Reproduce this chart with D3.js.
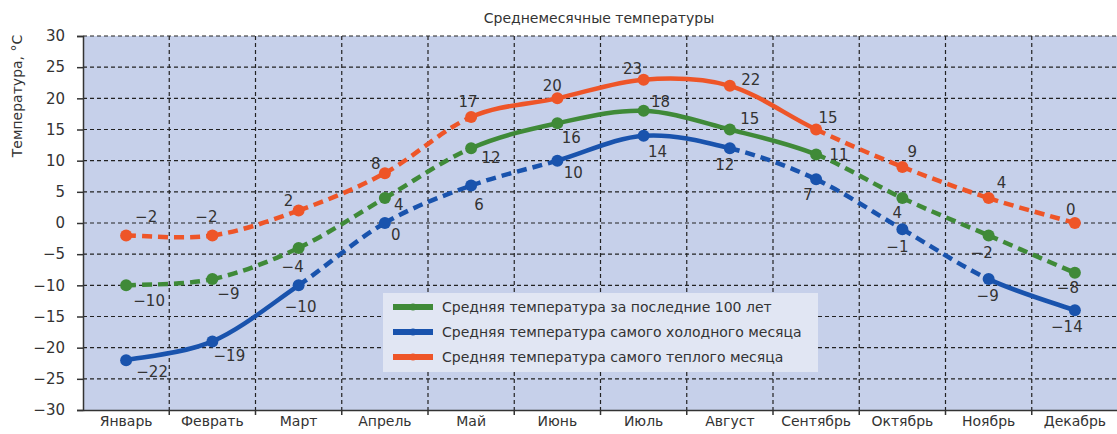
<!DOCTYPE html>
<html>
<head>
<meta charset="utf-8">
<script src="https://cdn.jsdelivr.net/npm/d3@7"></script>
<style>
  html, body { margin: 0; padding: 0; background: #ffffff; }
  svg { display: block; }
  text { font-family: "DejaVu Sans", sans-serif; fill: #333333; }
</style>
</head>
<body>
<svg id="chart" width="1117" height="434"></svg>
<script>
// ---- data ----
const months = ["Январь", "Февраль", "Март", "Апрель", "Май", "Июнь", "Июль", "Август", "Сентябрь", "Октябрь", "Ноябрь", "Декабрь"];
const monthLabels = ["Январь", "Феврать", "Март", "Апрель", "Май", "Июнь", "Июль", "Август", "Сентябрь", "Октябрь", "Ноябрь", "Декабрь"];
const avg100 = [-10, -9, -4, 4, 12, 16, 18, 15, 11, 4, -2, -8];
const coldest = [-22, -19, -10, 0, 6, 10, 14, 12, 7, -1, -9, -14];
const warmest = [-2, -2, 2, 8, 17, 20, 23, 22, 15, 9, 4, 0];
const yTicks = [-30, -25, -20, -15, -10, -5, 0, 5, 10, 15, 20, 25, 30];
const seriesNames = [
  "Средняя температура за последние 100 лет",
  "Средняя температура самого холодного месяца",
  "Средняя температура самого теплого месяца"
];
const title = "Среднемесячные температуры";
const yTitle = "Температура, °C";

// ---- styles (segment dashing, label placement) ----
const dashAvg  = [1,1,1,1,0,0,0,0,1,1,1];
const dashCold = [0,0,1,1,1,0,0,1,1,1,0];
const dashWarm = [1,1,1,1,0,0,0,0,1,1,1];
const offAvg  = [[23,15],[16,14],[-6,19],[14,7],[20,9],[14,14],[17,-9],[20,-11],[23,0],[-5,15],[-7,17],[-7,15]];
const offCold = [[26,11],[17,14],[2,21],[11,12],[8,19],[16,12],[14,16],[-5,16],[-8,15],[-5,17],[-1,16],[-8,16]];
const offWarm = [[20,-19],[-6,-19],[-10,-10],[-9,-10],[-3,-15],[-5,-13],[-11,-11],[21,-6],[12,-12],[10,-15],[13,-15],[-4,-13]];
const colors = ["#3f8a38", "#1953ad", "#ee5528"];

const series = [
  {name: seriesNames[0], values: avg100, dash: dashAvg, off: offAvg, color: colors[0]},
  {name: seriesNames[1], values: coldest, dash: dashCold, off: offCold, color: colors[1]},
  {name: seriesNames[2], values: warmest, dash: dashWarm, off: offWarm, color: colors[2]}
];

const svg = d3.select("#chart");
const mLeft = 83, mRight = 1118, mTop = 36, mBottom = 410;

const x = d3.scaleBand().domain(months).range([mLeft, mRight]).padding(0);
const y = d3.scaleLinear().domain([-30, 30]).range([mBottom, mTop]);
const cx = m => x(m) + x.bandwidth() / 2;

// plot background
svg.append("rect").attr("x", mLeft).attr("y", mTop)
  .attr("width", mRight - mLeft).attr("height", mBottom - mTop)
  .attr("fill", "#c6d0ea");

// horizontal grid
svg.append("g").selectAll("line").data(yTicks.filter(t => t > -30)).join("line")
  .attr("x1", mLeft).attr("x2", mRight)
  .attr("y1", d => y(d)).attr("y2", d => y(d))
  .attr("stroke", "#222").attr("stroke-width", 1.2).attr("stroke-dasharray", "4,3");

// vertical grid at band boundaries
svg.append("g").selectAll("line").data(months.slice(1)).join("line")
  .attr("x1", d => x(d)).attr("x2", d => x(d))
  .attr("y1", mTop).attr("y2", mBottom)
  .attr("stroke", "#222").attr("stroke-width", 1.2).attr("stroke-dasharray", "4,3");

// y axis
const yAxis = d3.axisLeft(y).tickValues(yTicks).tickSize(6).tickPadding(12)
  .tickFormat(d => d < 0 ? "\u2212" + Math.abs(d) : String(d));
const gy = svg.append("g").attr("transform", `translate(${mLeft},0)`).call(yAxis);
gy.select(".domain").attr("stroke", "#333").attr("stroke-width", 1.5);
gy.selectAll(".tick line").attr("stroke", "#333").attr("stroke-width", 1.5);
gy.selectAll(".tick text").attr("font-size", 15).attr("fill", "#333")
  .attr("font-family", "DejaVu Sans, sans-serif");

// x axis: ticks at band boundaries
const xAxis = d3.axisBottom(x).tickSize(0).tickPadding(6)
  .tickFormat((d, i) => monthLabels[i]);
const gx = svg.append("g").attr("transform", `translate(0,${mBottom})`).call(xAxis);
gx.select(".domain").attr("stroke", "#333").attr("stroke-width", 1.5);
gx.selectAll(".tick text").attr("font-size", 14).attr("fill", "#333")
  .attr("font-family", "DejaVu Sans, sans-serif");
gx.append("g").selectAll("line").data(months.slice(1)).join("line")
  .attr("x1", d => x(d)).attr("x2", d => x(d))
  .attr("y1", 0).attr("y2", 5).attr("stroke", "#333").attr("stroke-width", 1.5);

// smooth segment path (Catmull-Rom to Bezier)
function segPath(vals, i) {
  const P = k => {
    const kk = Math.max(0, Math.min(vals.length - 1, k));
    return [cx(months[kk]), y(vals[kk])];
  };
  const p0 = P(i - 1), p1 = P(i), p2 = P(i + 1), p3 = P(i + 2);
  const c1 = [p1[0] + (p2[0] - p0[0]) / 6, p1[1] + (p2[1] - p0[1]) / 6];
  const c2 = [p2[0] - (p3[0] - p1[0]) / 6, p2[1] - (p3[1] - p1[1]) / 6];
  const p = d3.path();
  p.moveTo(p1[0], p1[1]);
  p.bezierCurveTo(c1[0], c1[1], c2[0], c2[1], p2[0], p2[1]);
  return p.toString();
}

series.forEach(s => {
  const g = svg.append("g");
  d3.range(s.values.length - 1).forEach(i => {
    g.append("path").attr("d", segPath(s.values, i))
      .attr("fill", "none").attr("stroke", s.color).attr("stroke-width", 4.5)
      .attr("stroke-dasharray", s.dash[i] ? "10,6" : null);
  });
});

series.forEach(s => {
  svg.append("g").selectAll("circle").data(s.values).join("circle")
    .attr("cx", (d, i) => cx(months[i])).attr("cy", d => y(d))
    .attr("r", 6).attr("fill", s.color);
});

// data labels
series.forEach(s => {
  svg.append("g").selectAll("text").data(s.values).join("text")
    .attr("x", (d, i) => cx(months[i]) + s.off[i][0])
    .attr("y", (d, i) => y(d) + s.off[i][1])
    .attr("dy", "0.36em")
    .attr("text-anchor", "middle").attr("font-size", 15)
    .text(d => d < 0 ? "\u2212" + Math.abs(d) : String(d));
});

// legend
const lg = svg.append("g");
lg.append("rect").attr("x", 383).attr("y", 293).attr("width", 435).attr("height", 79)
  .attr("fill", "#e1e6f3");
series.forEach((s, i) => {
  const yy = 307 + i * 25;
  lg.append("line").attr("x1", 393).attr("x2", 433).attr("y1", yy).attr("y2", yy)
    .attr("stroke", s.color).attr("stroke-width", 6);
  lg.append("circle").attr("cx", 413).attr("cy", yy).attr("r", 3.5).attr("fill", s.color);
  lg.append("text").attr("x", 442).attr("y", yy).attr("dy", "0.36em")
    .attr("font-size", 14).text(s.name);
});

// titles
svg.append("text").attr("x", 599).attr("y", 23).attr("text-anchor", "middle")
  .attr("font-size", 14).text(title);
svg.append("text").attr("transform", "translate(22,96) rotate(-90)")
  .attr("text-anchor", "middle").attr("font-size", 14).text(yTitle);
</script>
</body>
</html>
